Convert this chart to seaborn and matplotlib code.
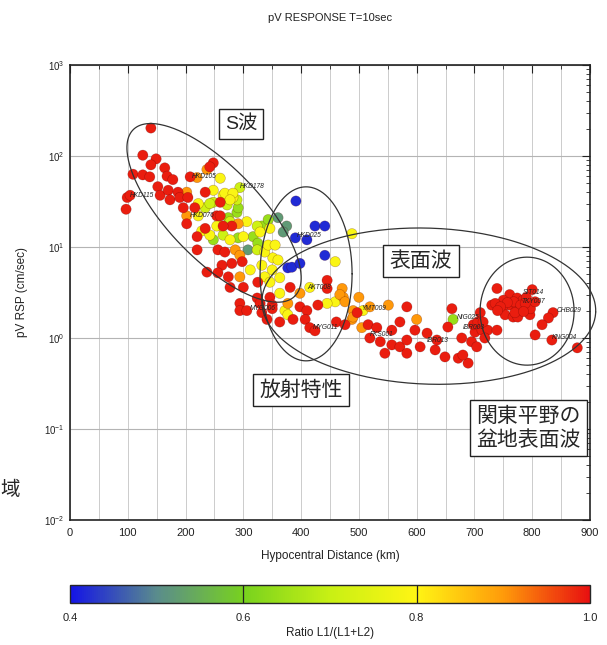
import numpy as np
import pandas as pd
import matplotlib
matplotlib.use("Agg")
import matplotlib.pyplot as plt
import seaborn as sns
from matplotlib.colors import LinearSegmentedColormap, Normalize
from matplotlib.cm import ScalarMappable
from matplotlib.ticker import MultipleLocator, LogLocator, NullFormatter

# points grouped by colour class: (hypocentral distance km, pV RSP cm/sec)
red_ratio = 0.99
red_pts = [
    (140, 203), (126, 102), (149, 93), (140, 80), (164, 74), (109, 63), (126, 62), (138, 59),
    (168, 60), (178, 55), (248, 84), (242, 76), (208, 59), (99, 35), (104, 37), (97, 26),
    (152, 46), (156, 37), (170, 42), (173, 33), (187, 40), (190, 35), (204, 35), (196, 27),
    (202, 18), (216, 27), (234, 40), (254, 22), (234, 16), (260, 31), (260, 22), (280, 17),
    (265, 17), (220, 13),
    (220, 9.3), (256, 9.3), (268, 8.8), (298, 6.9), (280, 6.6), (263, 6.3), (256, 5.2),
    (237, 5.3), (274, 4.7), (325, 4.1), (277, 3.6), (300, 3.6), (294, 2.4), (324, 2.75),
    (346, 2.8), (381, 3.6), (445, 4.3), (445, 3.5), (350, 2.3), (329, 2.4), (294, 2.0),
    (306, 2.0), (332, 1.9), (350, 2.1), (341, 1.6), (363, 1.5), (386, 1.6), (398, 2.2),
    (410, 2.0), (407, 1.6), (429, 2.3), (415, 1.3), (424, 1.2), (461, 1.5), (476, 1.4),
    (497, 1.9),
    (516, 1.4), (531, 1.3), (557, 1.22), (571, 1.5), (597, 1.22), (519, 1.0), (537, 0.91),
    (557, 0.84), (571, 0.80), (583, 0.95), (545, 0.68), (583, 0.68), (606, 0.80), (618, 1.13),
    (632, 0.74), (649, 0.62), (635, 0.95), (654, 1.32), (661, 2.1), (672, 0.60), (689, 0.53),
    (680, 0.65), (678, 1.0), (695, 0.91), (701, 1.16), (698, 1.4), (710, 1.9), (706, 1.5),
    (713, 1.22), (723, 1.22), (739, 1.22), (718, 1.0), (704, 0.80), (739, 3.5), (730, 2.3),
    (583, 2.2),
    (800, 3.4), (761, 3.0), (750, 2.6), (774, 2.75), (784, 2.6), (736, 2.4), (761, 2.3),
    (748, 2.1), (774, 2.1), (793, 2.0), (753, 1.8), (767, 1.7), (796, 1.8), (797, 2.1),
    (775, 1.7), (715, 1.5), (768, 2.5), (780, 2.3), (757, 2.45), (788, 2.4), (745, 2.2),
    (770, 1.9), (785, 1.95), (740, 2.0), (805, 2.5), (790, 2.8), (836, 1.9), (828, 1.66),
    (817, 1.4), (805, 1.08), (834, 0.95), (878, 0.78),
]

orange_ratio = 0.90
orange_pts = [
    (237, 71), (220, 58), (202, 40), (202, 22), (291, 18), (286, 9.3), (294, 8.1), (294, 4.7),
    (398, 3.1), (471, 3.5), (473, 2.8), (377, 2.4), (488, 1.6), (467, 3.0), (476, 2.5),
    (500, 2.8), (490, 2.0), (490, 1.7), (519, 2.2), (551, 2.3), (600, 1.6), (505, 1.3),
]

yellow_ratio = 0.79
yellow_pts = [
    (260, 57), (222, 22), (265, 37), (282, 35), (260, 17), (248, 42), (268, 39), (282, 39),
    (222, 30), (277, 33), (254, 17), (228, 15), (242, 13.5), (277, 12), (300, 13), (329, 14.6),
    (346, 16), (306, 19), (459, 6.9), (351, 7.6), (360, 7.2), (337, 8.8), (343, 10.5),
    (355, 10.5), (312, 5.6), (332, 6.3), (350, 5.6), (337, 4.7), (346, 4.1), (363, 4.6),
    (363, 3.1), (415, 3.6), (459, 2.5), (372, 2.0), (377, 1.8), (445, 2.4), (488, 14), (507, 2.0),
]

yellowgreen_ratio = 0.71
yellowgreen_pts = [
    (234, 27), (248, 31), (272, 29), (277, 19), (294, 45), (242, 30), (289, 33), (265, 13.5),
    (324, 17), (324, 9.3),
]

green_ratio = 0.64
green_pts = [
    (289, 24), (291, 27), (274, 21), (248, 12), (291, 12.6), (317, 13), (332, 17), (343, 20),
    (325, 11), (663, 1.6),
]

teal_ratio = 0.52
teal_pts = [(360, 21), (375, 17), (369, 14.6), (308, 9.3)]

blue_ratio = 0.42
blue_pts = [
    (391, 32), (424, 17), (441, 17), (390, 12.6), (410, 12), (441, 8.1), (377, 5.9),
    (384, 6.0), (398, 6.6),
]

station_names = ["HKD105", "HKD178", "HKD115", "HKD076", "HKD025", "AKT008", "MYG006",
                 "MYG011", "YMT009", "FKS001", "IBR013", "NIG025", "IBR003", "SIT014",
                 "TKY007", "CHB029", "KNG004"]
station_km = [211, 294, 104, 208, 393, 410, 312, 421, 505, 519, 618, 670, 680, 784, 782, 843, 834]
station_rsp = [59, 46, 37, 22, 13.5, 3.6, 2.1, 1.29, 2.1, 1.08, 0.95, 1.66, 1.29, 3.2, 2.5, 2.0, 1.02]

cbar_ticks = [0.4, 0.6, 0.8, 1.0]

groups = [(blue_pts, blue_ratio), (teal_pts, teal_ratio), (green_pts, green_ratio),
          (yellowgreen_pts, yellowgreen_ratio), (yellow_pts, yellow_ratio),
          (orange_pts, orange_ratio), (red_pts, red_ratio)]
rows = []
for pts, r in groups:
    for km, v in pts:
        rows.append({"km": km, "rsp": v, "ratio": r})
df = pd.DataFrame(rows)

cmap = LinearSegmentedColormap.from_list("l1ratio", [
    (0.0, "#1414e6"), (1 / 6, "#5a8c8c"), (2 / 6, "#78d21e"), (3 / 6, "#c8f014"),
    (4 / 6, "#fff514"), (5 / 6, "#ff9b0a"), (1.0, "#e81010")])

sns.set_theme(style="white")
plt.rcParams["font.family"] = ["Liberation Sans", "Noto Sans CJK JP", "DejaVu Sans"]
plt.rcParams["mathtext.fontset"] = "custom"
plt.rcParams["mathtext.rm"] = "Liberation Sans"

fig = plt.figure(figsize=(6.07, 6.45), dpi=100)
ax = fig.add_axes([70 / 607, 1 - 520 / 645, 520 / 607, 455 / 645])

ax.set_yscale("log")
ax.set_xlim(0, 900)
ax.set_ylim(1e-2, 1e3)
ax.set_axisbelow(True)
ax.xaxis.set_major_locator(MultipleLocator(100))
ax.xaxis.set_minor_locator(MultipleLocator(50))
ax.yaxis.set_major_locator(LogLocator(base=10, numticks=10))
ax.yaxis.set_minor_locator(LogLocator(base=10, subs=np.arange(2, 10), numticks=20))
ax.yaxis.set_minor_formatter(NullFormatter())
ax.grid(which="both", axis="x", color="#c4c4c4", lw=0.6)
ax.grid(which="major", axis="y", color="#b4b4b4", lw=0.8)

sns.scatterplot(data=df, x="km", y="rsp", hue="ratio", palette=cmap, hue_norm=(0.4, 1.0),
                s=55, edgecolor=(0.3, 0, 0, 0.35), linewidth=0.4, legend=False, ax=ax, zorder=3)

for name, km, v in zip(station_names, station_km, station_rsp):
    ax.text(km, v, name, fontsize=4.8, style="italic", color="#222222",
            ha="left", va="center", zorder=4)

ax.set_xlabel("")
ax.set_ylabel("")
ax.tick_params(which="both", direction="in", top=True, right=True, colors="#222222",
               labelsize=8)
ax.tick_params(which="major", length=6, width=0.8)
ax.tick_params(which="minor", length=3, width=0.6)
ax.tick_params(axis="y", labelsize=7, pad=4)
ax.tick_params(axis="x", pad=6)
for sp in ax.spines.values():
    sp.set_color("#222222")
    sp.set_linewidth(1.2)


def draw_ellipse(cx, cy, a, b, angle):
    # cx, cy in axes fraction, a, b in axes pixels (520 x 455)
    t = np.linspace(0, 2 * np.pi, 300)
    th = np.deg2rad(angle)
    ex = a * np.cos(t) * np.cos(th) - b * np.sin(t) * np.sin(th)
    ey = a * np.cos(t) * np.sin(th) + b * np.sin(t) * np.cos(th)
    ax.plot(cx + ex / 520, cy + ey / 455, transform=ax.transAxes, color="#333333",
            lw=0.9, zorder=5, clip_on=False)


draw_ellipse(0.277, 0.675, 116, 46, -46)
draw_ellipse(0.454, 0.541, 46, 87, 0)
draw_ellipse(0.690, 0.470, 167, 78, -2)
draw_ellipse(0.879, 0.459, 47, 54, 0)

box = dict(boxstyle="square,pad=0.3", fc="white", ec="#222222", lw=1.0)
ax.text(0.329, 0.870, "S波", transform=ax.transAxes, fontsize=14, ha="center",
        va="center", bbox=box, zorder=6)
ax.text(0.675, 0.569, "表面波", transform=ax.transAxes, fontsize=15, ha="center",
        va="center", bbox=box, zorder=6)
ax.text(0.444, 0.286, "放射特性", transform=ax.transAxes, fontsize=15, ha="center",
        va="center", bbox=box, zorder=6)
ax.text(0.881, 0.202, "関東平野の\n盆地表面波", transform=ax.transAxes, fontsize=15,
        ha="center", va="center", linespacing=1.25, bbox=box, zorder=6)

fig.text(330 / 607, 1 - 18 / 645, "pV RESPONSE T=10sec", fontsize=8, ha="center",
         va="center", color="#222222")
fig.text(330 / 607, 1 - 556 / 645, "Hypocentral Distance (km)", fontsize=8.5,
         ha="center", va="center", color="#222222")
fig.text(22 / 607, 1 - 292 / 645, "pV RSP (cm/sec)", fontsize=8.5, rotation=90,
         ha="center", va="center", color="#222222")
fig.text(10 / 607, 1 - 490 / 645, "域", fontsize=14, ha="center", va="center")

cax = fig.add_axes([70 / 607, 1 - 603 / 645, 520 / 607, 18 / 645])
sm = ScalarMappable(norm=Normalize(0.4, 1.0), cmap=cmap)
cb = fig.colorbar(sm, cax=cax, orientation="horizontal", ticks=cbar_ticks)
cb.ax.set_xticklabels([f"{t:.1f}" for t in cbar_ticks])
cb.ax.tick_params(length=0, labelsize=8, pad=7, colors="#222222")
cb.outline.set_linewidth(1.0)
for t in cbar_ticks[1:3]:
    cax.axvline(t, color="#222222", lw=0.9)
cb.set_label("Ratio L1/(L1+L2)", fontsize=8.5, labelpad=3, color="#222222")

fig.savefig("out.png", dpi=100)
